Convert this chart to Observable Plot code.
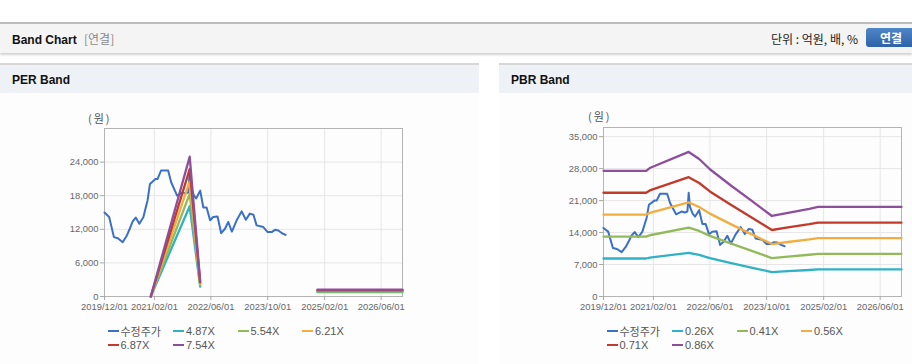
<!DOCTYPE html>
<html><head><meta charset="utf-8">
<script src="https://cdn.jsdelivr.net/npm/d3@7"></script>
<script src="https://cdn.jsdelivr.net/npm/@observablehq/plot@0.6"></script>
<style>
body{margin:0;background:#fff;font-family:"Liberation Sans",Arial,"Noto Sans CJK KR",sans-serif;}
#page{position:relative;width:912px;height:364px;overflow:hidden;background:#fff;}
.abs{position:absolute;}
.kr{font-family:"Noto Sans CJK KR","Liberation Sans",sans-serif;}
.title{font-weight:bold;font-size:12px;color:#111;white-space:nowrap;}
.leg{position:absolute;height:14px;line-height:14px;font-size:11px;color:#555;white-space:nowrap;}
.leg i{position:absolute;left:0;top:6px;width:11px;height:2px;}
.leg span{position:absolute;left:13px;top:0;}
</style></head><body><div id="page">
  <div class="abs" style="left:0;top:22px;width:912px;height:29px;background:#f4f4f4;border-top:2px solid #bcbcbc;box-shadow:0 2px 2px rgba(0,0,0,0.18)"></div>
  <div class="abs title" style="left:12px;top:31px;line-height:16px;">Band Chart <span class="kr" style="font-weight:normal;color:#8a8a8a;margin-left:4px;">[연결]</span></div>
  <div class="abs kr" style="left:771px;top:31px;line-height:16px;font-size:12px;color:#222;white-space:nowrap;">단위 : 억원, 배, %</div>
  <div class="abs kr" style="left:866px;top:28px;width:52px;height:19px;line-height:19px;border-radius:3px;background:linear-gradient(#4f86c8,#2e62a6);color:#fff;font-weight:bold;font-size:12px;text-align:center;"><span style="position:relative;left:-1px">연결</span></div>

  <div class="abs" style="left:0;top:63px;width:479px;height:299px;background:#fdfdfe;border-top:2px solid #d6d6d6;border-bottom:1px solid #cfcfcf"></div>
  <div class="abs" style="left:0;top:65px;width:479px;height:28px;background:#eef2f7;"></div>
  <div class="abs title" style="left:12px;top:72px;line-height:16px;">PER Band</div>

  <div class="abs" style="left:499px;top:63px;width:413px;height:299px;background:#fdfdfe;border-top:2px solid #d6d6d6;border-bottom:1px solid #cfcfcf"></div>
  <div class="abs" style="left:499px;top:65px;width:413px;height:28px;background:#eef2f7;"></div>
  <div class="abs title" style="left:511px;top:72px;line-height:16px;">PBR Band</div>

  <div class="abs kr" style="left:88px;top:110px;font-size:11px;color:#555;letter-spacing:2px;line-height:16px;">(원)</div>
  <div class="abs kr" style="left:588px;top:108px;font-size:11px;color:#555;letter-spacing:2px;line-height:16px;">(원)</div>

  <div id="per" class="abs" style="left:0;top:100px;"></div>
  <div id="pbr" class="abs" style="left:499px;top:100px;"></div>
  <div id="legPer"></div>
  <div id="legPbr"></div>
</div>
<script>
// x-axis tick labels
const xTickLabels = ["2019/12/01","2021/02/01","2022/06/01","2023/10/01","2025/02/01","2026/06/01"];
const xDomain = ["2019-12-01","2026-12-01"];
const perYTicks = [0,6000,12000,18000,24000];
const pbrYTicks = [0,7000,14000,21000,28000,35000];

// 수정주가 (adjusted price)
const priceDates = ["2019-12-01","2020-01-10","2020-02-20","2020-03-25","2020-05-05","2020-06-10","2020-07-05","2020-07-30","2020-08-25","2020-09-25","2020-10-30","2020-11-20","2020-12-05","2020-12-25","2021-02-10","2021-03-01","2021-03-30","2021-05-30","2021-06-25","2021-08-15","2021-09-30","2021-10-30","2021-11-20","2021-12-01","2021-12-12","2022-01-05","2022-01-25","2022-03-01","2022-03-28","2022-04-25","2022-05-25","2022-06-20","2022-07-28","2022-08-28","2022-09-30","2022-10-28","2022-11-28","2023-01-08","2023-02-20","2023-03-28","2023-05-01","2023-06-01","2023-06-28","2023-08-25","2023-10-01","2023-11-05","2023-12-03","2024-01-01","2024-02-01","2024-03-03"];
const priceValues = [15000,14200,10600,10400,9700,10900,12100,13400,14100,13000,14200,16000,17200,20100,21000,21000,22500,22500,20400,18000,18600,18400,18600,22700,19600,18100,17500,18900,15900,15900,13600,14200,14300,11300,12100,13300,11600,13600,15200,13700,14800,14600,12700,12400,11500,11500,11900,11800,11300,11000];

// PER bands
const perBandDates = ["2021-01-01","2021-12-01","2022-03-01","2023-06-01","2024-12-01","2026-12-01"];
const per487 = [0,16120,1780,NaN,780,780];
const per554 = [0,18340,2020,NaN,890,890];
const per621 = [0,20560,2270,NaN,990,990];
const per687 = [0,22740,2510,NaN,1100,1100];
const per754 = [0,24960,2750,NaN,1210,1210];

// PBR bands
const pbrBandDates = ["2019-12-01","2020-12-01","2021-01-01","2021-12-01","2022-03-01","2022-06-01","2022-12-01","2023-06-01","2023-11-15","2024-04-01","2024-10-01","2024-12-15","2026-12-01"];
const pbr026 = [8320,8320,8500,9570,9100,8420,7330,6290,5330,5540,5800,5930,5930];
const pbr041 = [13120,13120,13410,15090,14350,13280,11560,9920,8410,8730,9140,9350,9350];
const pbr056 = [17920,17920,18310,20610,19600,18140,15790,13550,11480,11930,12490,12770,12770];
const pbr071 = [22720,22720,23220,26130,24850,23000,20020,17180,14560,15120,15830,16190,16190];
const pbr086 = [27520,27520,28120,31650,30100,27860,24250,20810,17630,18320,19180,19610,19610];

const perNames = ["수정주가","4.87X","5.54X","6.21X","6.87X","7.54X"];
const pbrNames = ["수정주가","0.26X","0.41X","0.56X","0.71X","0.86X"];
const colors = ["#3a70c6","#31b1c5","#92ba5a","#f0ad40","#c23a2c","#8d4e9b"];

const parseD = d3.utcParse("%Y-%m-%d");
const parseT = d3.utcParse("%Y/%m/%d");
const xTicks = xTickLabels.map(parseT);
const rows = (dates, vals) => dates.map((d,i)=>({date: parseD(d), value: vals[i]}));

function chart({width, marginRight, marginTop, yMax, yTicks, bands}) {
  const grid = {stroke:"#e6e6e6", strokeOpacity:1};
  return Plot.plot({
    width, height:220, marginLeft:104, marginRight, marginTop, marginBottom:24,
    style:{background:"transparent", fontFamily:"'Liberation Sans', Arial, sans-serif", fontSize:"9.4px", color:"#666", overflow:"visible"},
    x:{type:"utc", domain:xDomain.map(parseD), label:null},
    y:{domain:[0,yMax], label:null},
    marks:[
      Plot.gridX(xTicks, grid),
      Plot.gridY(yTicks, grid),
      Plot.frame({stroke:"#b4b4b4"}),
      Plot.axisX(xTicks, {tickSize:4, tickPadding:3, stroke:"#a8a8a8", fill:"#666", tickFormat:d3.utcFormat("%Y/%m/%d"), label:null}),
      Plot.axisY(yTicks, {tickSize:4, tickPadding:2, stroke:"#a8a8a8", fill:"#666", tickFormat:d3.format(","), label:null}),
      Plot.line(rows(priceDates, priceValues), {x:"date", y:"value", stroke:colors[0], strokeWidth:2}),
      ...bands.map((b,i)=>Plot.line(b, {x:"date", y:"value", stroke:colors[i+1], strokeWidth:2.3}))
    ]
  });
}

document.getElementById("per").append(chart({
  width:479, marginRight:77, marginTop:28, yMax:30000, yTicks:perYTicks,
  bands:[per487,per554,per621,per687,per754].map(v=>rows(perBandDates,v))
}));
document.getElementById("pbr").append(chart({
  width:413, marginRight:11, marginTop:27, yMax:37000, yTicks:pbrYTicks,
  bands:[pbr026,pbr041,pbr056,pbr071,pbr086].map(v=>rows(pbrBandDates,v))
}));

function legend(id, left, names) {
  const el = document.getElementById(id);
  const cols = [0,65.5,130,194.5];
  names.forEach((n,i)=>{
    const r = Math.floor(i/4), c = i%4;
    const d = document.createElement("div");
    d.className = "leg" + (i===0 ? " kr" : "");
    d.style.left = (left + cols[c]) + "px";
    d.style.top = (324 + r*13.5) + "px";
    d.innerHTML = `<i style="background:${colors[i]}"></i><span>${n}</span>`;
    el.appendChild(d);
  });
}
legend("legPer", 107.5, perNames);
legend("legPbr", 606.5, pbrNames);
</script>
</body></html>
